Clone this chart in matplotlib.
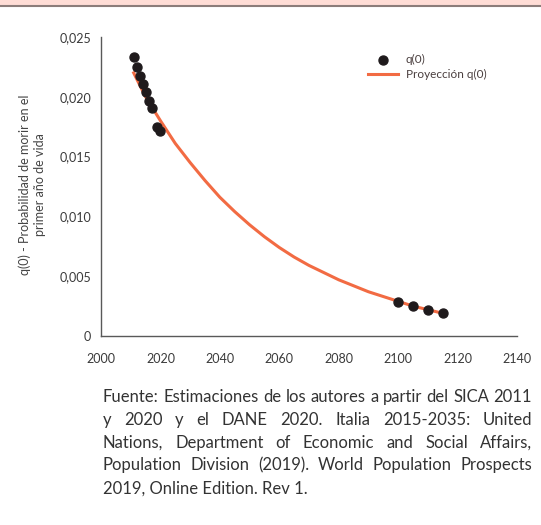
import matplotlib
matplotlib.use('Agg')
import matplotlib.pyplot as plt
from matplotlib.ticker import FuncFormatter, MultipleLocator
from matplotlib.patches import Rectangle
from matplotlib.lines import Line2D

plt.rcParams['font.family'] = ['Lato', 'DejaVu Sans']

# q(0) observado (SICA / DANE y proyeccion Italia)
anios_obs = [2011, 2012, 2013, 2014, 2015, 2016, 2017, 2019, 2020,
             2100, 2105, 2110, 2115]
q0_obs = [0.02330, 0.02247, 0.02176, 0.02107, 0.02038, 0.01967, 0.01906,
          0.01750, 0.01717, 0.00287, 0.00248, 0.00217, 0.00192]

# proyeccion q(0)
anios_proy = [2011, 2015, 2020, 2025, 2030, 2035, 2040, 2045, 2050, 2055,
              2060, 2065, 2070, 2075, 2080, 2085, 2090, 2095, 2100, 2105,
              2110, 2115]
q0_proy = [0.0220, 0.0200, 0.0180, 0.0161, 0.0145, 0.0130, 0.0116, 0.0104,
           0.0093, 0.0083, 0.0074, 0.0066, 0.0059, 0.0053, 0.0047, 0.0042,
           0.0037, 0.0033, 0.0029, 0.0025, 0.0022, 0.0019]

fuente = [
    "Fuente: Estimaciones de los autores a partir del SICA 2011",
    "y 2020 y el DANE 2020. Italia 2015-2035: United",
    "Nations, Department of Economic and Social Affairs,",
    "Population Division (2019). World Population Prospects",
    "2019, Online Edition. Rev 1.",
]

W, H = 541, 525
fig = plt.figure(figsize=(W / 100, H / 100), dpi=100)

# franja superior
fig.patches.append(Rectangle((0, 1 - 5 / H), 1, 5 / H, transform=fig.transFigure,
                             facecolor='#FFDDD6', edgecolor='none'))
fig.lines.append(Line2D([0, 1], [1 - 5.5 / H, 1 - 5.5 / H], transform=fig.transFigure,
                        color='#8c7d7a', lw=1.5))

ax = fig.add_axes([101 / W, 1 - 336 / H, 416 / W, 299 / H])
h_lin, = ax.plot(anios_proy, q0_proy, color='#F26B43', lw=2.2, zorder=2)
h_pts = ax.scatter(anios_obs, q0_obs, s=42, color='#1f1a1c', zorder=3)

ax.set_xlim(2000, 2140)
ax.set_ylim(0, 0.025)
ax.xaxis.set_major_locator(MultipleLocator(20))
ax.yaxis.set_major_locator(MultipleLocator(0.005))
ax.yaxis.set_major_formatter(FuncFormatter(
    lambda v, p: '0' if abs(v) < 1e-9 else f'{v:.3f}'.replace('.', ',')))

for s in ['top', 'right']:
    ax.spines[s].set_visible(False)
for s in ['left', 'bottom']:
    ax.spines[s].set_color('#595959')
    ax.spines[s].set_linewidth(1.0)
ax.tick_params(length=0, labelsize=9, labelcolor='#3a3a3a')
ax.tick_params(axis='x', pad=12)
ax.tick_params(axis='y', pad=7)

fig.text(32 / W, 1 - 185 / H, 'q(0) - Probabilidad de morir en el\nprimer año de vida',
         rotation=90, ha='center', va='center', fontsize=9, color='#444444',
         linespacing=1.3)

leg = ax.legend([h_pts, h_lin], ['q(0)', 'Proyección q(0)'], loc='upper left',
                bbox_to_anchor=(0.63, 0.96), frameon=False, fontsize=8.5,
                handlelength=2.6, handletextpad=0.6, labelspacing=0.4, borderaxespad=0)
for t in leg.get_texts():
    t.set_color('#4a3f3f')

# texto de la fuente, justificado
renderer = fig.canvas.get_renderer()
x_izq, x_der = 103, 532
y0, paso = 397, 22.8
tam = 12
estilo = dict(fontsize=tam, color='#333333', va='center', ha='left')
for i, linea in enumerate(fuente):
    y = 1 - (y0 + i * paso) / H
    palabras = linea.split(' ')
    if i == len(fuente) - 1:
        fig.text(x_izq / W, y, linea, **estilo)
        continue
    objs = [fig.text(0, y, p, **estilo) for p in palabras]
    anchos = [o.get_window_extent(renderer).width for o in objs]
    hueco = (x_der - x_izq - sum(anchos)) / (len(palabras) - 1)
    x = x_izq
    for o, a in zip(objs, anchos):
        o.set_x(x / W)
        x += a + hueco

fig.savefig('out.png', dpi=100)
